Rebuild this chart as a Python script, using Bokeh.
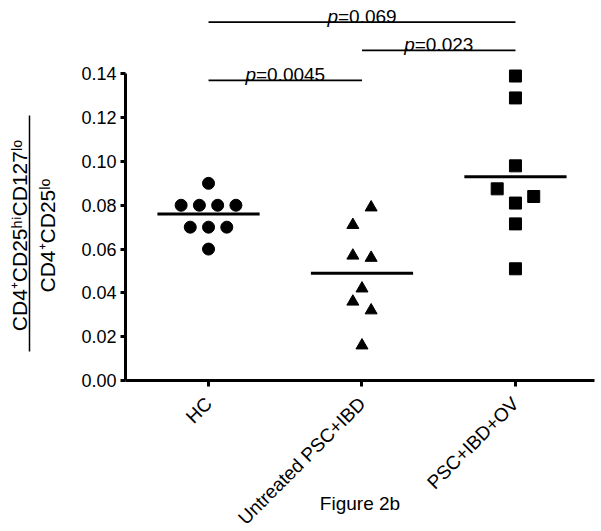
import math
from bokeh.plotting import figure
from bokeh.layouts import row
from bokeh.models import ColumnDataSource, FixedTicker, NumeralTickFormatter, Range1d
from bokeh.core.properties import value
from bokeh.embed import file_html
from bokeh.resources import INLINE

# ---------------- data ----------------
categories = ["HC", "Untreated PSC+IBD", "PSC+IBD+OV"]
hc_values = [0.090, 0.080, 0.080, 0.080, 0.080, 0.070, 0.070, 0.070, 0.060]
untreated_values = [0.079, 0.071, 0.057, 0.056, 0.042, 0.036, 0.032, 0.016]
ov_values = [0.139, 0.129, 0.098, 0.0875, 0.084, 0.081, 0.0715, 0.051]
group_means = [0.076, 0.049, 0.093]
y_ticks = [0.00, 0.02, 0.04, 0.06, 0.08, 0.10, 0.12, 0.14]
comparisons = [(0, 1), (1, 2), (0, 2)]
p_values = ["0.0045", "0.023", "0.069"]
y_label_top = "CD4\u207aCD25\u02b0\u2071CD127\u02e1\u1d52"
y_label_bottom = "CD4\u207aCD25\u02e1\u1d52"
x_label = "Figure 2b"

# ---------------- layout (not data) ----------------
hc_slots = [0, -1.5, -0.5, 0.5, 1.5, -1, 0, 1, 0]
untreated_slots = [0.5, -0.5, -0.5, 0.5, 0, -0.5, 0.5, 0]
ov_slots = [0, 0, 0, -1, 1, 0, 0, 0]
SLOT = 0.119
MEAN_HALF = 0.333
bar_levels = [0.1370, 0.1507, 0.1636]
FONT = "Liberation Sans"

H = 531
LW = 60                      # width of the y-label strip
W = 535                      # main figure width
B_LEFT, B_RIGHT, B_TOP, B_BOTTOM = 65, 1, 0, 151
FRAME_H = H - B_TOP - B_BOTTOM
X0, X1 = 0.459, 3.515
Y0, Y1 = 0.0, 0.17348
DY = (Y1 - Y0) / FRAME_H

# ---------------- y-label strip (frame is aligned with the main frame) ----------------
lab = figure(width=LW, height=H, output_backend="svg", toolbar_location=None,
             x_range=Range1d(0, LW), y_range=Range1d(0, FRAME_H),
             x_axis_type=None, y_axis_type=None, title=None,
             min_border_left=0, min_border_right=0, min_border_top=B_TOP,
             min_border_bottom=B_BOTTOM)
lab.outline_line_color = None
lab.grid.visible = False
lab.background_fill_color = "white"
lab.border_fill_color = "white"
y_mid = FRAME_H - 235
lab.text(x=[18.5], y=[y_mid], text=[y_label_top], angle=math.pi / 2,
         text_align="center", text_baseline="middle", text_font=value(FONT),
         text_font_size="21px", text_color="black")
lab.text(x=[47], y=[y_mid], text=[y_label_bottom], angle=math.pi / 2,
         text_align="center", text_baseline="middle", text_font=value(FONT),
         text_font_size="21px", text_color="black")
lab.segment(x0=[29], x1=[29], y0=[FRAME_H - 115], y1=[FRAME_H - 351],
            line_width=1.5, line_color="black")

# ---------------- main plot ----------------
p = figure(width=W, height=H, output_backend="svg", toolbar_location=None,
           x_range=Range1d(X0, X1), y_range=Range1d(Y0, Y1), title=None,
           min_border_left=B_LEFT, min_border_right=B_RIGHT,
           min_border_top=B_TOP, min_border_bottom=B_BOTTOM)
p.outline_line_color = None
p.grid.visible = False
p.background_fill_color = "white"
p.border_fill_color = "white"

for ax in (p.xaxis[0], p.yaxis[0]):
    ax.axis_line_width = 3
    ax.axis_line_color = "black"
    ax.major_tick_line_width = 3
    ax.major_tick_line_color = "black"
    ax.major_tick_in = 0
    ax.major_tick_out = 6
    ax.minor_tick_line_color = None
    ax.major_label_text_font = FONT
    ax.major_label_text_color = "black"

p.yaxis.bounds = (y_ticks[0], y_ticks[-1])
p.yaxis.ticker = FixedTicker(ticks=y_ticks)
p.yaxis.formatter = NumeralTickFormatter(format="0.00")
p.yaxis.major_label_standoff = 4
p.yaxis.major_tick_out = 5
p.yaxis.major_label_text_font_size = "18px"

cat_pos = [i + 1 for i in range(len(categories))]
p.xaxis.ticker = FixedTicker(ticks=cat_pos)
p.xaxis.major_label_overrides = {c: name for c, name in zip(cat_pos, categories)}
p.xaxis.major_label_orientation = math.pi / 4
p.xaxis.major_label_standoff = 14
p.xaxis.major_label_text_font_size = "19px"
p.xaxis.axis_label = x_label
p.xaxis.axis_label_text_font = FONT
p.xaxis.axis_label_text_font_style = "normal"
p.xaxis.axis_label_text_font_size = "19px"
p.xaxis.axis_label_text_color = "black"
p.xaxis.axis_label_standoff = -46


def xs(center, slots):
    return [center + s * SLOT for s in slots]


p.scatter(xs(cat_pos[0], hc_slots), hc_values, marker="circle", size=12,
          fill_color="black", line_color="black")
p.scatter(xs(cat_pos[1], untreated_slots), untreated_values, marker="triangle", size=12,
          fill_color="black", line_color="black")
p.scatter(xs(cat_pos[2], ov_slots), ov_values, marker="square", size=12,
          fill_color="black", line_color="black")

# mean lines
p.segment(x0=[c - MEAN_HALF for c in cat_pos], x1=[c + MEAN_HALF for c in cat_pos],
          y0=group_means, y1=group_means, line_width=3, line_color="black")

# significance bars
sx0 = [cat_pos[a] for a, b in comparisons]
sx1 = [cat_pos[b] for a, b in comparisons]
p.segment(x0=sx0, x1=sx1, y0=bar_levels, y1=bar_levels, line_width=1.6, line_color="black")

CW = {"=": 0.584, ".": 0.278}
P_FS = 19


def width_em(s):
    return sum(CW.get(ch, 0.556) for ch in s)


mids = [(a + b) / 2 for a, b in zip(sx0, sx1)]
rest = ["=" + v for v in p_values]
offs = [P_FS * (-(0.556 + width_em(r)) / 2 + 0.556) for r in rest]
text_y = [b + 6 * DY for b in bar_levels]
src = ColumnDataSource(dict(x=mids, y=text_y, rest=rest, p=["p"] * len(rest), off=offs))
p.text(x="x", y="y", text="p", source=src, x_offset="off",
       text_align="right", text_baseline="alphabetic", text_font=value(FONT),
       text_font_style="italic", text_font_size=f"{P_FS}px", text_color="black")
p.text(x="x", y="y", text="rest", source=src, x_offset="off",
       text_align="left", text_baseline="alphabetic", text_font=value(FONT),
       text_font_size=f"{P_FS}px", text_color="black")

layout = row(lab, p)
open("out.html", "w").write(file_html(layout, INLINE))
